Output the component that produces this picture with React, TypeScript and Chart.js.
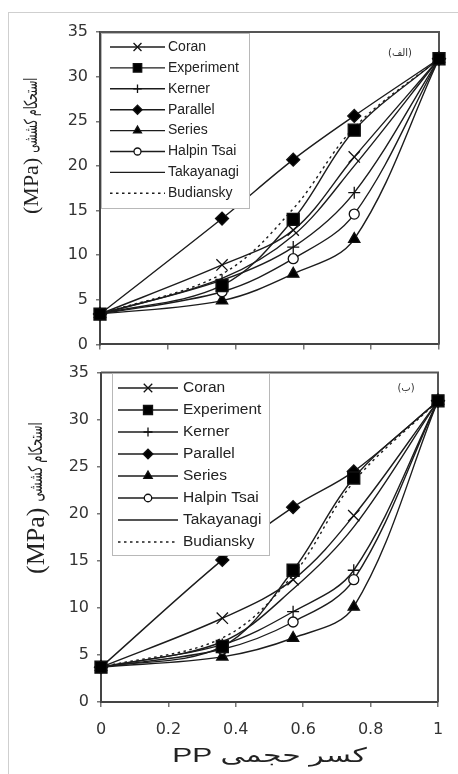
import React, { useEffect, useRef } from 'react';
import { Chart, registerables } from 'chart.js';
import { drawPoint } from 'chart.js/helpers';

Chart.register(...registerables);

// ---------- data ----------
const volumeFraction = [0, 0.36, 0.57, 0.75, 1];
const xTickValues = [0, 0.2, 0.4, 0.6, 0.8, 1];
const yTickValues = [0, 5, 10, 15, 20, 25, 30, 35];
const seriesNames = ['Coran', 'Experiment', 'Kerner', 'Parallel', 'Series', 'Halpin Tsai', 'Takayanagi', 'Budiansky'];

// panel (الف)
const coranA = [3.4, 8.9, 12.8, 21.0, 32];
const experimentA = [3.4, 6.6, 14.0, 24.0, 32];
const kernerA = [3.4, 7.2, 10.9, 17.0, 32];
const parallelA = [3.4, 14.1, 20.7, 25.6, 32];
const seriesA = [3.4, 4.9, 7.9, 11.8, 32];
const halpinA = [3.4, 5.9, 9.6, 14.6, 32];
const takayanagiA = [3.4, 7.4, 12.2, 20.0, 32];
const budianskyA = [3.4, 7.9, 15.2, 24.3, 32];

// panel (ب)
const coranB = [3.7, 8.9, 13.0, 19.8, 32];
const experimentB = [3.7, 5.9, 14.0, 23.8, 32];
const kernerB = [3.7, 6.1, 9.6, 14.0, 32];
const parallelB = [3.7, 15.1, 20.7, 24.5, 32];
const seriesB = [3.7, 4.8, 6.8, 10.1, 32];
const halpinB = [3.7, 5.6, 8.5, 13.0, 32];
const takayanagiB = [3.7, 6.4, 12.0, 18.6, 32];
const budianskyB = [3.7, 6.8, 13.5, 23.4, 32];

const yTitleUnit = '(MPa)';
const yTitleWords = 'استحکام کششی';
const xTitleText = 'PP کسر حجمی';
const panelTags = ['(الف)', '(ب)'];

// ---------- styles ----------
const LINE = '#1c1c1c';
const seriesStyles: any[] = [
  { pointStyle: 'crossRot', radius: 8, bg: LINE, dash: [], order: 3 },
  { pointStyle: 'rect', radius: 8.5, bg: '#000', dash: [], order: 0 },
  { pointStyle: 'cross', radius: 6, bg: LINE, dash: [], order: 4 },
  { pointStyle: 'rectRot', radius: 6.5, bg: '#000', dash: [], order: 1 },
  { pointStyle: 'triangle', radius: 6.5, bg: '#000', dash: [], order: 5 },
  { pointStyle: 'circle', radius: 5, bg: '#fff', dash: [], order: 2 },
  { pointStyle: false, radius: 0, bg: LINE, dash: [], order: 6 },
  { pointStyle: false, radius: 0, bg: LINE, dash: [2.5, 3.5], order: 7 },
];

function buildDatasets(values: number[][]) {
  return values.map((vals, i) => {
    const s = seriesStyles[i];
    return {
      label: seriesNames[i],
      data: volumeFraction.map((x, j) => ({ x, y: vals[j] })),
      borderColor: LINE,
      borderWidth: 1.4,
      borderDash: s.dash,
      tension: 0.35,
      fill: false,
      pointStyle: s.pointStyle,
      pointRadius: s.radius,
      pointHoverRadius: s.radius,
      pointBackgroundColor: s.bg,
      pointBorderColor: '#111',
      pointBorderWidth: 1.3,
      clip: false as any,
      order: s.order,
    };
  });
}

// ---------- plugins ----------
const framePlugin = {
  id: 'frame',
  beforeDatasetsDraw(chart: any) {
    const { ctx, chartArea: a } = chart;
    ctx.save();
    ctx.strokeStyle = '#555';
    ctx.lineWidth = 2;
    ctx.beginPath();
    ctx.moveTo(a.left, a.top);
    ctx.lineTo(a.right, a.top);
    ctx.lineTo(a.right, a.bottom);
    ctx.stroke();
    ctx.restore();
  },
};

const boxLegendPlugin = {
  id: 'boxLegend',
  afterDatasetsDraw(chart: any, _args: any, o: any) {
    const { ctx } = chart;
    ctx.save();
    ctx.fillStyle = '#fff';
    ctx.fillRect(o.boxX, o.boxY, o.boxW, o.boxH);
    ctx.strokeStyle = '#b8b8b8';
    ctx.lineWidth = 1;
    ctx.strokeRect(o.boxX + 0.5, o.boxY + 0.5, o.boxW, o.boxH);
    chart.data.datasets.forEach((ds: any, i: number) => {
      const y = o.rowTop + i * o.rowGap;
      ctx.strokeStyle = ds.borderColor;
      ctx.lineWidth = ds.borderWidth;
      ctx.setLineDash(ds.borderDash || []);
      ctx.beginPath();
      ctx.moveTo(o.lineFrom, y);
      ctx.lineTo(o.lineTo, y);
      ctx.stroke();
      ctx.setLineDash([]);
      if (ds.pointStyle) {
        ctx.fillStyle = ds.pointBackgroundColor;
        ctx.strokeStyle = ds.pointBorderColor;
        ctx.lineWidth = ds.pointBorderWidth;
        drawPoint(ctx, { pointStyle: ds.pointStyle, radius: ds.pointRadius * o.markerScale, rotation: 0, borderWidth: ds.pointBorderWidth } as any, (o.lineFrom + o.lineTo) / 2, y);
      }
      ctx.fillStyle = '#222';
      ctx.font = `${o.fontSize}px "Liberation Sans", Arial, sans-serif`;
      ctx.textAlign = 'left';
      ctx.textBaseline = 'middle';
      ctx.fillText(ds.label, o.textX, y);
    });
    ctx.restore();
  },
};

const decorPlugin = {
  id: 'decor',
  afterDraw(chart: any, _args: any, o: any) {
    const { ctx } = chart;
    // y-axis title (rotated, read bottom to top)
    ctx.save();
    ctx.fillStyle = '#222';
    ctx.translate(o.titleX, o.titleBottom);
    ctx.rotate(-Math.PI / 2);
    ctx.textAlign = 'left';
    ctx.textBaseline = 'middle';
    ctx.font = `${o.unitSize}px "Liberation Serif", "DejaVu Serif", serif`;
    ctx.fillText(yTitleUnit, 0, 0);
    const w1 = ctx.measureText(yTitleUnit).width;
    ctx.translate(w1 + o.titleGap, 0);
    ctx.scale(o.wordsStretch, 1);
    ctx.font = `${o.wordsSize}px "DejaVu Sans", sans-serif`;
    ctx.fillText(yTitleWords, 0, 0);
    ctx.restore();
    // panel tag
    ctx.save();
    ctx.fillStyle = '#333';
    ctx.textAlign = 'center';
    ctx.textBaseline = 'middle';
    ctx.font = `${o.tagSize}px "DejaVu Sans", sans-serif`;
    ctx.fillText(o.tag, o.tagX, o.tagY);
    ctx.restore();
    // x-axis title (horizontally widened like the source)
    if (o.xTitle) {
      const a = chart.chartArea;
      ctx.save();
      ctx.fillStyle = '#222';
      ctx.translate((a.left + a.right) / 2, o.xTitleY);
      ctx.scale(o.xTitleStretch, 1);
      ctx.textAlign = 'center';
      ctx.textBaseline = 'middle';
      ctx.font = `${o.xTitleSize}px "Liberation Sans", "DejaVu Sans", sans-serif`;
      ctx.fillText(o.xTitle, 0, 0);
      ctx.restore();
    }
  },
};

const tickFont = { family: '"DejaVu Sans", sans-serif', size: 16 };

function makeConfig(values: number[][], p: any): any {
  return {
    type: 'line',
    data: { datasets: buildDatasets(values) },
    plugins: [framePlugin, boxLegendPlugin, decorPlugin],
    options: {
      responsive: false,
      animation: false,
      events: [],
      layout: { padding: p.padding },
      scales: {
        x: {
          type: 'linear',
          min: 0,
          max: 1,
          afterBuildTicks: (s: any) => { s.ticks = xTickValues.map((v) => ({ value: v })); },
          afterFit: (s: any) => { s.height = p.xHeight; },
          ticks: { display: p.showX, font: tickFont, color: '#333', padding: 13, callback: (v: any) => String(v) },
          grid: { display: true, drawOnChartArea: false, drawTicks: true, tickLength: 5, color: '#777', lineWidth: 1.5 },
          border: { display: true, color: '#444', width: 2 },
        },
        y: {
          type: 'linear',
          min: 0,
          max: 35,
          afterBuildTicks: (s: any) => { s.ticks = yTickValues.map((v) => ({ value: v })); },
          afterFit: (s: any) => { s.width = p.yWidth; },
          ticks: { font: tickFont, color: '#333', padding: 8 },
          grid: { display: true, drawOnChartArea: false, drawTicks: true, tickLength: 4, color: '#777', lineWidth: 1.5 },
          border: { display: true, color: '#444', width: 2 },
        },
      },
      plugins: {
        legend: { display: false },
        tooltip: { enabled: false },
        boxLegend: p.legend,
        decor: p.decor,
      },
    },
  };
}

const topLayout = {
  padding: { left: 0, right: 19, top: 32, bottom: 0 },
  xHeight: 12,
  yWidth: 100,
  showX: false,
  legend: { boxX: 101, boxY: 33, boxW: 148, boxH: 175, rowTop: 47, rowGap: 20.9, lineFrom: 110, lineTo: 165, textX: 168, fontSize: 14, markerScale: 0.7 },
  decor: { titleX: 32, titleBottom: 214, unitSize: 22, wordsSize: 18, wordsStretch: 0.6, titleGap: 5, tag: panelTags[0], tagX: 400, tagY: 53, tagSize: 10, xTitle: '' },
};

const bottomLayout = {
  padding: { left: 0, right: 20, top: 10, bottom: 0 },
  xHeight: 72,
  yWidth: 101,
  showX: true,
  legend: { boxX: 112, boxY: 18, boxW: 157, boxH: 182, rowTop: 33, rowGap: 22, lineFrom: 118, lineTo: 178, textX: 183, fontSize: 15.5, markerScale: 0.75 },
  decor: { titleX: 37, titleBottom: 574 - 355, unitSize: 26, wordsSize: 19, wordsStretch: 0.6, titleGap: 6, tag: panelTags[1], tagX: 406, tagY: 33, tagSize: 10, xTitle: xTitleText, xTitleY: 401, xTitleSize: 20, xTitleStretch: 1.5 },
};

function Panel({ values, layout, top, height }: { values: number[][]; layout: any; top: number; height: number }) {
  const ref = useRef<HTMLCanvasElement>(null);
  useEffect(() => {
    const chart = new Chart(ref.current as HTMLCanvasElement, makeConfig(values, layout));
    return () => chart.destroy();
  }, []);
  return <canvas ref={ref} width={458} height={height} style={{ position: 'absolute', left: 0, top, width: 458, height }} />;
}

export default function App() {
  const panelA = [coranA, experimentA, kernerA, parallelA, seriesA, halpinA, takayanagiA, budianskyA];
  const panelB = [coranB, experimentB, kernerB, parallelB, seriesB, halpinB, takayanagiB, budianskyB];
  return (
    <div style={{ position: 'absolute', left: 0, top: 0, width: 458, height: 774, background: '#fff', overflow: 'hidden' }}>
      <div style={{ position: 'absolute', left: 8, top: 12, width: 460, height: 770, borderTop: '1px solid #cfcfcf', borderLeft: '1px solid #cfcfcf' }} />
      <Panel values={panelA} layout={topLayout} top={0} height={362} />
      <Panel values={panelB} layout={bottomLayout} top={355} height={419} />
    </div>
  );
}
